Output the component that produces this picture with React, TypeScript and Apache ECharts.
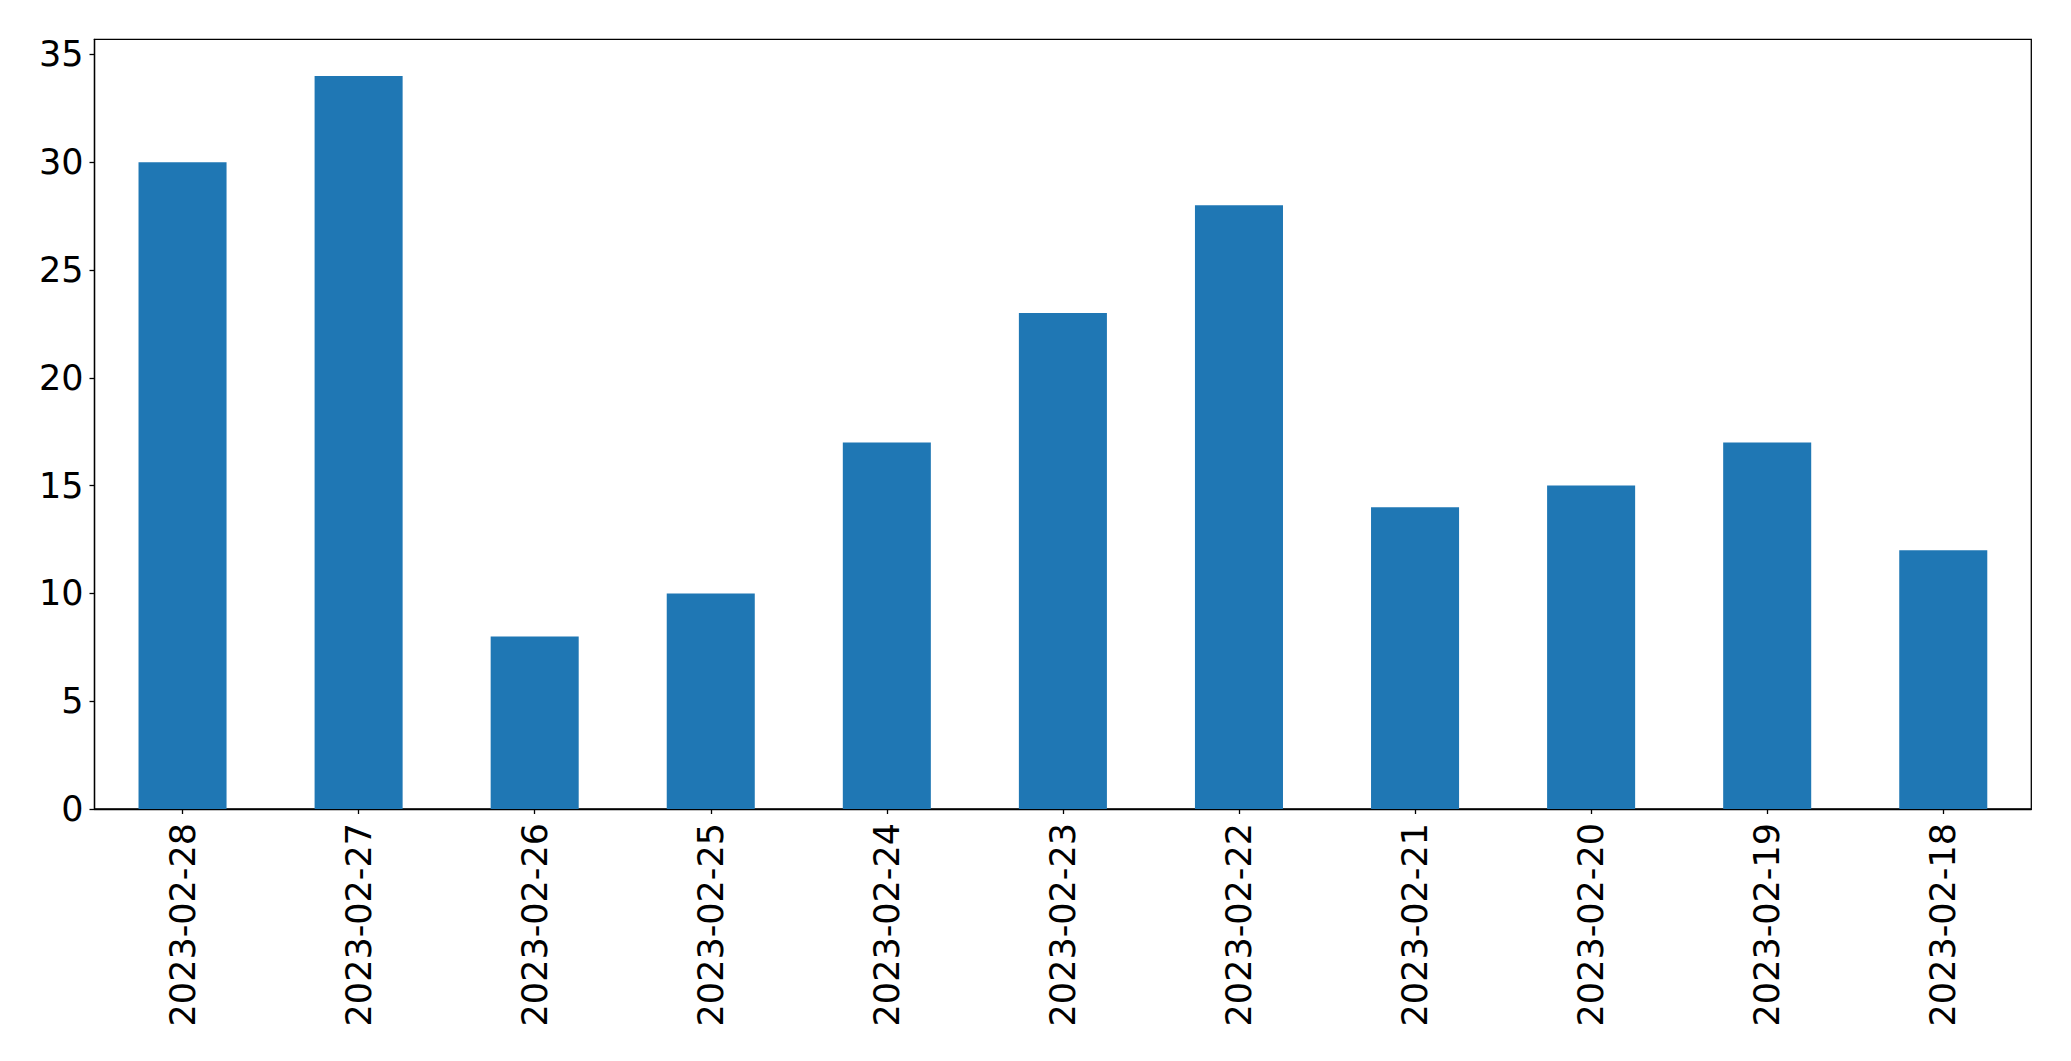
import React, { useEffect, useRef } from "react";
import * as echarts from "echarts";

const categories = [
  "2023-02-28", "2023-02-27", "2023-02-26", "2023-02-25", "2023-02-24", "2023-02-23",
  "2023-02-22", "2023-02-21", "2023-02-20", "2023-02-19", "2023-02-18",
];
const values = [30, 34, 8, 10, 17, 23, 28, 14, 15, 17, 12];
const yTicks = [0, 5, 10, 15, 20, 25, 30, 35];

export default function App() {
  const ref = useRef<HTMLDivElement>(null);
  useEffect(() => {
    if (!ref.current) return;
    const chart = echarts.init(ref.current, null, { renderer: "svg" });
    const font = { fontFamily: "DejaVu Sans", fontSize: 35, color: "#000" };
    chart.setOption({
      animation: false,
      backgroundColor: "#fff",
      grid: {
        left: 94.5,
        right: 39.7,
        top: 39.3,
        bottom: 252,
        show: true,
        borderColor: "#000",
        borderWidth: 1.3,
        backgroundColor: "transparent",
      },
      xAxis: {
        type: "category",
        data: categories,
        axisLine: { show: true, lineStyle: { color: "#000", width: 1.3 } },
        axisTick: { show: true, alignWithLabel: true, length: 5, lineStyle: { color: "#000", width: 1.3 } },
        axisLabel: { ...font, rotate: 90, margin: 14, interval: 0 },
        splitLine: { show: false },
      },
      yAxis: {
        type: "value",
        min: 0,
        max: 35.7,
        interval: 5,
        axisLine: { show: true, lineStyle: { color: "#000", width: 1.3 } },
        axisTick: { show: true, length: 5, lineStyle: { color: "#000", width: 1.3 }, customValues: yTicks },
        axisLabel: { ...font, margin: 11, customValues: yTicks },
        splitLine: { show: false },
      },
      series: [
        {
          type: "bar",
          data: values,
          barWidth: "50%",
          itemStyle: { color: "#1f77b4" },
        },
      ],
    });
    return () => chart.dispose();
  }, []);
  return (
    <div
      ref={ref}
      style={{ position: "fixed", left: 0, top: 0, width: 2071, height: 1061, background: "#fff" }}
    />
  );
}
